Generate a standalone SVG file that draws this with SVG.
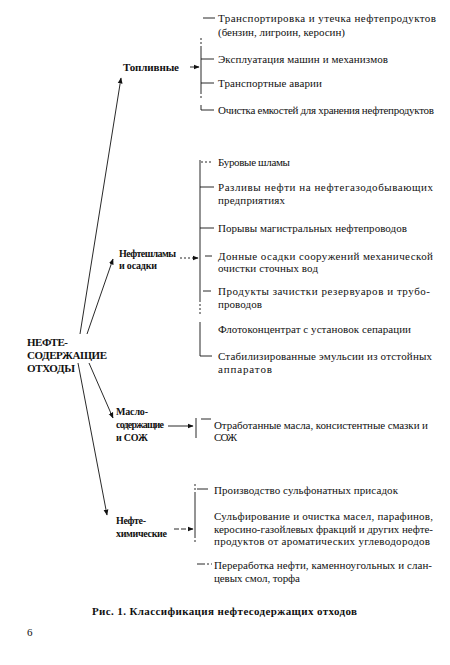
<svg xmlns="http://www.w3.org/2000/svg" width="450" height="665" viewBox="0 0 450 665" font-family="'Liberation Serif', 'DejaVu Serif', serif">
<style>
text{font-family:"Liberation Serif","DejaVu Serif","Noto Serif",serif;font-size:11px;fill:#111}
.b{font-weight:bold}
.s{font-size:10px}
.ln{stroke:#111;stroke-width:0.9;fill:none}
.dt{stroke:#111;stroke-width:0.9;fill:none;stroke-dasharray:2 2}
</style>
<defs>
<marker id="ah" viewBox="0 0 10 10" refX="9" refY="5" markerWidth="6" markerHeight="6" markerUnits="userSpaceOnUse" orient="auto">
<path d="M0,1 L10,5 L0,9 z" fill="#111"/>
</marker>
</defs>
<rect width="450" height="665" fill="#fff"/>

<g id="connectors">
<line class="ln" x1="80" y1="334" x2="121" y2="78" marker-end="url(#ah)"/>
<line class="ln" x1="87" y1="334" x2="113" y2="259" marker-end="url(#ah)"/>
<line class="ln" x1="89" y1="363" x2="113" y2="418" marker-end="url(#ah)"/>
<line class="ln" x1="78" y1="363" x2="107" y2="515" marker-end="url(#ah)"/>
<line class="ln" x1="190" y1="67" x2="199" y2="67" marker-end="url(#ah)"/>
<line class="dt" x1="180" y1="258" x2="198" y2="258" marker-end="url(#ah)"/>
<line class="ln" x1="168" y1="426" x2="193" y2="426" marker-end="url(#ah)"/>
<line class="ln" x1="174" y1="529" stroke-dasharray="5 2" x2="193" y2="529" marker-end="url(#ah)"/>
</g>

<g id="brackets">
<line class="ln" x1="203" y1="18" x2="215" y2="18"/>
<line class="dt" x1="201" y1="38" x2="201" y2="46"/>
<line class="ln" x1="201" y1="46" x2="201" y2="92"/>
<line class="dt" x1="201" y1="92" x2="201" y2="98"/>
<line class="ln" x1="201" y1="59" x2="214" y2="59"/>
<line class="ln" x1="201" y1="83" x2="214" y2="83"/>
<line class="ln" x1="201" y1="105" x2="201" y2="110"/>
<line class="ln" x1="201" y1="110" x2="214" y2="110"/>

<line class="ln" x1="200" y1="160" x2="200" y2="300"/>
<line class="dt" x1="200" y1="300" x2="200" y2="314"/>
<line class="dt" x1="201" y1="162" x2="213" y2="162"/>
<line class="ln" x1="200" y1="187" x2="214" y2="187"/>
<line class="ln" x1="200" y1="228" x2="214" y2="228"/>
<line class="ln" x1="205" y1="256" x2="212" y2="256"/>
<line class="ln" x1="203" y1="291" x2="211" y2="291"/>
<line class="ln" x1="200" y1="322" x2="200" y2="356"/>
<line class="ln" x1="200" y1="356" x2="212" y2="356"/>

<line class="ln" x1="196" y1="418" x2="196" y2="438"/>
<line class="ln" x1="201" y1="419" x2="211" y2="419"/>

<line class="dt" x1="195" y1="484" x2="195" y2="494"/>
<line class="ln" x1="195" y1="494" x2="195" y2="536"/>
<line class="dt" x1="195" y1="536" x2="195" y2="544"/>
<line class="ln" x1="197" y1="489" x2="208" y2="489"/>
<line class="ln" x1="197" y1="564" x2="212" y2="564" stroke-dasharray="8 2 2 2"/>
</g>

<g id="root">
<text class="b" x="27" y="346" textLength="41">НЕФТЕ-</text>
<text class="b" x="27" y="359" textLength="80">СОДЕРЖАЩИЕ</text>
<text class="b" x="27" y="372" textLength="48">ОТХОДЫ</text>
</g>

<g id="toplivnye">
<text class="b" x="123" y="71" textLength="56">Топливные</text>
</g>
<g id="toplivnye-items">
<text x="218" y="22" textLength="218">Транспортировка и утечка нефтепродуктов</text>
<text x="218" y="36" textLength="127">(бензин, лигроин, керосин)</text>
<text x="218" y="63" textLength="170">Эксплуатация машин и механизмов</text>
<text x="218" y="87" textLength="104">Транспортные аварии</text>
<text x="218" y="114" textLength="216">Очистка емкостей для хранения нефтепродуктов</text>
</g>

<g id="nefteshlamy">
<text class="b s" x="119" y="257" textLength="57">Нефтешламы</text>
<text class="b s" x="119" y="269" textLength="38">и осадки</text>
</g>
<g id="nefteshlamy-items">
<text x="218" y="166" textLength="72">Буровые шламы</text>
<text x="218" y="191" textLength="215">Разливы нефти на нефтегазодобывающих</text>
<text x="218" y="204" textLength="67">предприятиях</text>
<text x="218" y="232" textLength="189">Порывы магистральных нефтепроводов</text>
<text x="218" y="260" textLength="215">Донные осадки сооружений механической</text>
<text x="218" y="272" textLength="100">очистки сточных вод</text>
<text x="218" y="295" textLength="212">Продукты зачистки резервуаров и трубо-</text>
<text x="218" y="308" textLength="44">проводов</text>
<text x="218" y="333" textLength="193">Флотоконцентрат с установок сепарации</text>
<text x="218" y="360" textLength="214">Стабилизированные эмульсии из отстойных</text>
<text x="218" y="373" textLength="54">аппаратов</text>
</g>

<g id="maslo">
<text class="b s" x="116" y="415" textLength="32">Масло-</text>
<text class="b s" x="116" y="428" textLength="48">содержащие</text>
<text class="b s" x="116" y="441" textLength="32">и СОЖ</text>
</g>
<g id="maslo-items">
<text x="214" y="429" textLength="214">Отработанные масла, консистентные смазки и</text>
<text x="214" y="441" textLength="23">СОЖ</text>
</g>

<g id="neftehim">
<text class="b s" x="116" y="524" textLength="30">Нефте-</text>
<text class="b s" x="116" y="537" textLength="51">химические</text>
</g>
<g id="neftehim-items">
<text x="214" y="494" textLength="184">Производство сульфонатных присадок</text>
<text x="214" y="520" textLength="219">Сульфирование и очистка масел, парафинов,</text>
<text x="214" y="533" textLength="219">керосино-газойлевых фракций и других нефте-</text>
<text x="214" y="545" textLength="216">продуктов от ароматических углеводородов</text>
<text x="214" y="569" textLength="218">Переработка нефти, каменноугольных и слан-</text>
<text x="214" y="582" textLength="86">цевых смол, торфа</text>
</g>

<g id="caption">
<text class="b" x="92" y="615" textLength="265">Рис. 1. Классификация нефтесодержащих отходов</text>
<text x="27" y="636">6</text>
</g>
</svg>
